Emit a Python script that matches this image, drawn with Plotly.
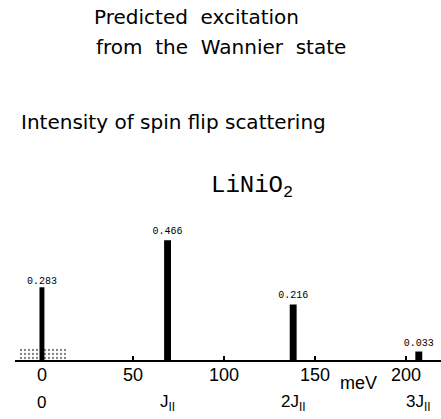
import plotly.graph_objects as go

# Data
energies = [0, 69, 138, 207]            # meV
intensities = [0.283, 0.466, 0.216, 0.033]
value_labels = ["0.283", "0.466", "0.216", "0.033"]
tick_vals = [0, 50, 100, 150, 200]
tick_text = ["0", "50", "100", "150", "200"]
mult_labels = ["0", "J<sub>II</sub>", "2J<sub>II</sub>", "3J<sub>II</sub>"]
band_center = [0.5]                      # stippled continuum near 0 meV
band_height = [0.045]

fig = go.Figure()

fig.add_trace(go.Bar(
    x=band_center, y=band_height, width=[27],
    marker=dict(color="white", line=dict(width=0),
                pattern=dict(shape=".", fgcolor="black", bgcolor="white",
                             size=4, solidity=0.25)),
    showlegend=False, hoverinfo="skip",
))

fig.add_trace(go.Bar(
    x=energies, y=intensities, width=[2.7, 3.8, 3.8, 3.8],
    marker=dict(color="black", line=dict(width=0)),
    text=value_labels, textposition="outside", constraintext="none",
    textfont=dict(family="Liberation Mono", size=10, color="black"),
    cliponaxis=False, showlegend=False,
))

fig.update_layout(
    width=441, height=419,
    margin=dict(l=15, r=0, t=0, b=59),
    plot_bgcolor="white", paper_bgcolor="white",
    barmode="overlay",
    font=dict(family="Liberation Sans", color="black"),
    xaxis=dict(range=[-14.8, 219.2], showgrid=False, zeroline=False,
               showline=True, linecolor="black", linewidth=2,
               ticks="inside", ticklen=4, tickwidth=1.5, tickcolor="black",
               tickvals=tick_vals, ticktext=tick_text, ticklabelstandoff=-3,
               tickfont=dict(family="Liberation Sans", size=18, color="black")),
    yaxis=dict(range=[0, 360 / 257], visible=False, showgrid=False, zeroline=False),
)

for e, lab in zip(energies, mult_labels):
    fig.add_annotation(x=e, y=-0.119, xref="x", yref="paper", text=lab,
                       showarrow=False, xanchor="center", yanchor="middle",
                       font=dict(family="Liberation Sans", size=17, color="black"))

fig.add_annotation(x=174, y=-0.064, xref="x", yref="paper", text="meV",
                   showarrow=False, xanchor="center", yanchor="middle",
                   font=dict(family="Liberation Sans", size=18, color="black"))

titles = [
    ("Predicted  excitation", 0.181, 0.953),
    ("from  the  Wannier  state", 0.186, 0.869),
    ("Intensity of spin flip scattering", 0.0100, 0.661),
]
for txt, x, y in titles:
    fig.add_annotation(x=x, y=y, xref="paper", yref="paper", text=txt,
                       showarrow=False, xanchor="left", yanchor="middle",
                       font=dict(family="DejaVu Sans", size=20, color="black"))

fig.add_annotation(x=0.455, y=0.48, xref="paper", yref="paper",
                   text="LiNiO<sub>2</sub>", showarrow=False,
                   xanchor="left", yanchor="middle",
                   font=dict(family="Liberation Mono", size=24, color="black"))

fig.write_html("out.html")
